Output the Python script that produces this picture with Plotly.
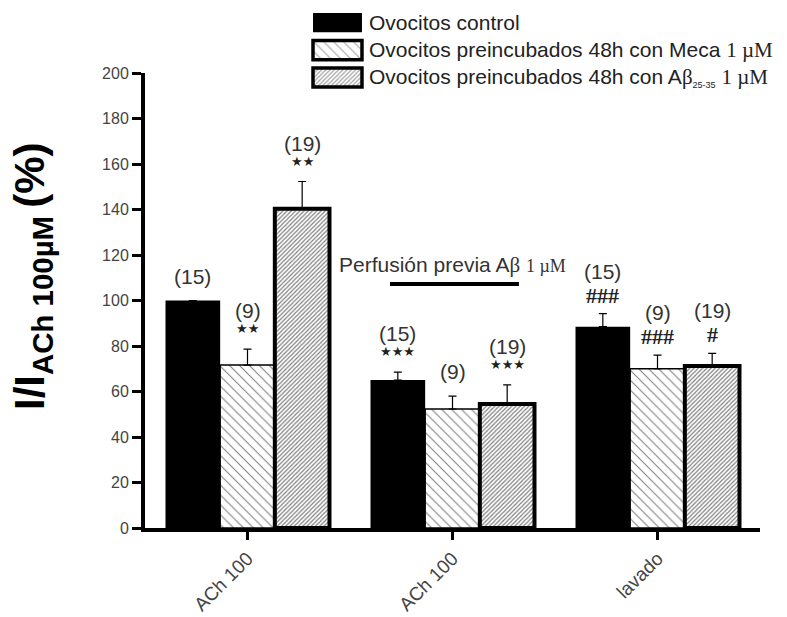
import plotly.graph_objects as go

# ---------------- data ----------------
groups = ["ACh 100", "ACh 100", "lavado"]
group_pos = [0, 1, 2]

control = [100, 65, 88.5]
control_err = [0, 3.5, 5.7]
meca = [71.6, 52.3, 70.0]
meca_err = [7, 5.7, 6]
abeta = [140.3, 54.5, 71.2]
abeta_err = [12, 8.4, 5.6]

control_n = ["(15)", "(15)", "(15)"]
meca_n = ["(9)", "(9)", "(9)"]
abeta_n = ["(19)", "(19)", "(19)"]
control_sig = ["", "***", "###"]
meca_sig = ["**", "", "###"]
abeta_sig = ["**", "***", "#"]

y_ticks = [0, 20, 40, 60, 80, 100, 120, 140, 160, 180, 200]

SERIF = "font-family:Liberation Serif"
legend_labels = [
    "Ovocitos control",
    f'Ovocitos preincubados 48h con Meca <span style="{SERIF}">1 µM</span>',
    f'Ovocitos preincubados 48h con A<span style="{SERIF}">β</span>'
    '<sub><span style="font-size:9px">25-35</span></sub> '
    f'<span style="{SERIF}">1 µM</span>',
]
legend_rows = [0, 1, 2]
legend_len = [1, 1, 1]

perfusion_text = (f'Perfusión previa A<span style="{SERIF}">β</span> '
                  f'<span style="{SERIF};font-size:18px">1 µM</span>')
y_title = "<b>I/I<sub>ACh 100µM </sub>(%)</b>"

# ---------------- styles ----------------
BARGAP = 0.2
NSER = 3
series = [
    dict(y=control, err=control_err, n=control_n, sig=control_sig,
         marker=dict(color="black", line=dict(color="black", width=0))),
    dict(y=meca, err=meca_err, n=meca_n, sig=meca_sig,
         marker=dict(color="white", line=dict(color="black", width=1.5),
                     pattern=dict(shape="\\", size=7, solidity=0.15,
                                  fgcolor="black", bgcolor="white"))),
    dict(y=abeta, err=abeta_err, n=abeta_n, sig=abeta_sig,
         marker=dict(color="white", line=dict(color="black", width=4),
                     pattern=dict(shape="/", size=3, solidity=0.4,
                                  fgcolor="black", bgcolor="white"))),
]

fig = go.Figure()
for s in series:
    fig.add_trace(go.Bar(
        x=group_pos, y=s["y"], marker=s["marker"],
        error_y=dict(type="data", symmetric=False, array=s["err"],
                     arrayminus=[0] * len(s["err"]), color="black",
                     thickness=1.2, width=4),
        xaxis="x", yaxis="y", showlegend=False, hoverinfo="skip"))

# custom legend drawn as bars on an auxiliary axis
fig.add_trace(go.Bar(
    x=legend_len, y=legend_rows, orientation="h", width=0.7,
    xaxis="x2", yaxis="y2", showlegend=False, hoverinfo="skip",
    marker=dict(color=["black", "white", "white"],
                line=dict(color="black", width=[0, 3.5, 3.5]),
                pattern=dict(shape=["", "\\", "/"], size=[7, 7, 3],
                             solidity=[0.15, 0.15, 0.4], fgcolor="black",
                             bgcolor="white"))))

annotations = []
for r, lab in zip(legend_rows, legend_labels):
    annotations.append(dict(text=lab, xref="paper", x=0.361, xanchor="left",
                            yref="y2", y=r, yanchor="middle", showarrow=False,
                            font=dict(size=21, color="#222")))

width_each = (1 - BARGAP) / NSER
for j, s in enumerate(series):
    off = (j - (NSER - 1) / 2) * width_each
    for i, g in enumerate(group_pos):
        top = s["y"][i] + s["err"][i]
        sig = s["sig"][i]
        if sig.startswith("*"):
            annotations.append(dict(text="★" * len(sig), x=g + off, y=top,
                                    xref="x", yref="y", yanchor="bottom",
                                    yshift=11, showarrow=False,
                                    font=dict(size=13, family="DejaVu Sans", color="#222")))
            nshift = 25
        elif sig.startswith("#"):
            annotations.append(dict(text="<b>" + sig + "</b>", x=g + off, y=top,
                                    xref="x", yref="y", yanchor="bottom",
                                    yshift=4, showarrow=False,
                                    font=dict(size=22, family="Liberation Serif", color="#222")))
            nshift = 29
        else:
            nshift = 11
        annotations.append(dict(text=s["n"][i], x=g + off, y=top, xref="x",
                                yref="y", yanchor="bottom", yshift=nshift,
                                showarrow=False, font=dict(size=21, color="#333")))

annotations.append(dict(text=perfusion_text, x=1, y=115.6, xref="x", yref="y",
                        showarrow=False, font=dict(size=21, color="#333")))
annotations.append(dict(text=y_title, xref="paper", x=-0.182, xanchor="center",
                        yref="paper", y=0.482, yanchor="middle", textangle=-90,
                        showarrow=False, font=dict(size=42, color="black")))

shapes = [dict(type="line", xref="x", yref="y", x0=0.695, x1=1.324, y0=107.3,
               y1=107.3, line=dict(color="black", width=4))]

fig.update_layout(
    width=787, height=617,
    margin=dict(l=145, r=27, t=5, b=89, autoexpand=False),
    plot_bgcolor="white", paper_bgcolor="white",
    barmode="group", bargap=BARGAP, bargroupgap=0,
    showlegend=False,
    font=dict(family="Arial, Liberation Sans, sans-serif", color="#222"),
    xaxis=dict(domain=[0, 1], anchor="y", range=[-0.5, 2.5], automargin=False,
               tickmode="array", tickvals=group_pos, ticktext=groups,
               tickangle=-45, showline=True, linewidth=4, linecolor="black",
               ticks="outside", ticklen=8, tickwidth=3, tickcolor="black",
               tickfont=dict(size=19, color="#444"), showgrid=False,
               zeroline=False),
    yaxis=dict(domain=[0, 0.86998], anchor="x", range=[0, 200], automargin=False,
               tickmode="array", tickvals=y_ticks, showline=True,
               linewidth=4, linecolor="black", ticks="outside", ticklen=9,
               tickwidth=3, tickcolor="black",
               tickfont=dict(size=16, color="#444"), showgrid=False,
               zeroline=False),
    xaxis2=dict(domain=[0.2692, 0.3568], anchor="y2", range=[-0.05, 1.05],
                visible=False),
    yaxis2=dict(domain=[0.8351, 0.9928], anchor="x2", range=[2.5, -0.5],
                visible=False),
    annotations=annotations,
    shapes=shapes,
)

fig.write_html("out.html", config={"displayModeBar": False},
               post_script="document.body.style.margin='0';document.body.style.overflow='hidden';")
